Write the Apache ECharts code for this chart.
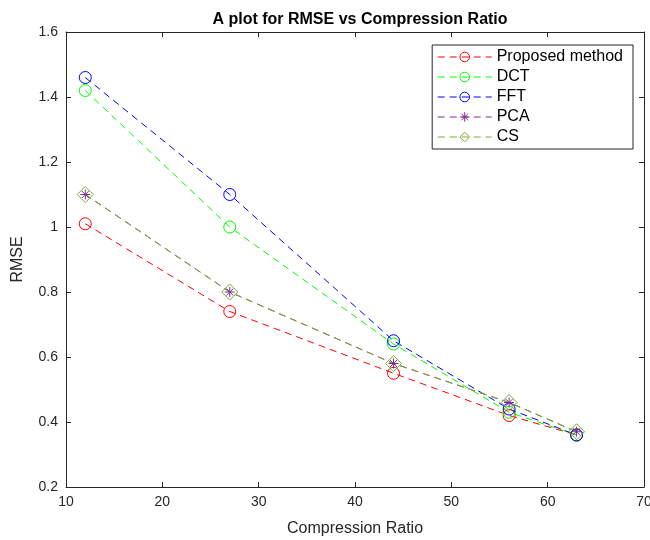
<!DOCTYPE html>
<html>
<head>
<meta charset="utf-8">
<script src="https://cdn.jsdelivr.net/npm/echarts@6/dist/echarts.min.js"></script>
<style>html,body{margin:0;padding:0;background:#fff;}#c{width:650px;height:540px;}</style>
</head>
<body>
<div id="c"></div>
<script>
const ratios = [12, 27, 44, 56, 63];
const proposed = [1.01, 0.74, 0.55, 0.42, 0.36];
const dct = [1.42, 1.00, 0.64, 0.43, 0.36];
const fft = [1.46, 1.10, 0.65, 0.44, 0.36];
const pca = [1.10, 0.80, 0.58, 0.46, 0.37];
const cs = [1.10, 0.80, 0.58, 0.46, 0.37];
const xTicks = [10, 20, 30, 40, 50, 60, 70];
const yTicks = [0.2, 0.4, 0.6, 0.8, 1.0, 1.2, 1.4, 1.6];

const FONT = '"Liberation Sans", Arial, sans-serif';
const starPath = 'path://M10,0L10,20M0,10L20,10M3,3L17,17M3,17L17,3';
const diamondPath = 'path://M10,0L16,10L10,20L4,10Z';

function pairs(ys) { return ratios.map((x, i) => [x, ys[i]]); }
function mk(name, ys, color, symbol, size, fill) {
  return {
    name: name, type: 'line', data: pairs(ys),
    symbol: symbol, symbolSize: size,
    lineStyle: { color: color, width: 1, type: [7, 5] },
    itemStyle: { color: fill, borderColor: color, borderWidth: 1 },
    emphasis: { disabled: true },
    animation: false
  };
}

const chart = echarts.init(document.getElementById('c'));
const axisCommon = {
  axisLine: { show: true, lineStyle: { color: '#262626', width: 1 } },
  axisTick: { show: true, inside: true, length: 5, lineStyle: { color: '#262626' } },
  splitLine: { show: false }
};
chart.setOption({
  backgroundColor: '#fff',
  title: {
    text: 'A plot for RMSE vs Compression Ratio', left: 355, top: 7, textAlign: 'center',
    textStyle: { fontFamily: FONT, fontSize: 16, fontWeight: 'bold', color: '#000' }
  },
  grid: { left: 66, right: 6, top: 32, bottom: 53, outerBoundsMode: 'none', containLabel: false },
  legend: {
    orient: 'vertical', right: 17, top: 45,
    itemWidth: 54, itemHeight: 12, itemGap: 4,
    padding: [4, 10, 4, 5],
    borderColor: '#262626', borderWidth: 1, backgroundColor: '#fff',
    lineStyle: { width: 1, type: [7, 5] },
    itemStyle: { borderWidth: 1 },
    textStyle: { fontFamily: FONT, fontSize: 16, lineHeight: 14, color: '#000' },
    data: ['Proposed method', 'DCT', 'FFT', 'PCA', 'CS']
  },
  xAxis: [Object.assign({
    type: 'value', min: xTicks[0], max: xTicks[xTicks.length - 1], interval: 10,
    name: 'Compression Ratio', nameLocation: 'middle', nameGap: 34,
    nameTextStyle: { fontFamily: FONT, fontSize: 16, color: '#262626' },
    axisLabel: { fontFamily: FONT, fontSize: 14, color: '#262626', margin: 8 }
  }, axisCommon), Object.assign({
    type: 'value', position: 'top', min: 10, max: 70, interval: 10,
    axisLabel: { show: false }
  }, axisCommon)],
  yAxis: [Object.assign({
    type: 'value', min: yTicks[0], max: yTicks[yTicks.length - 1], interval: 0.2,
    name: 'RMSE', nameLocation: 'middle', nameGap: 40,
    nameTextStyle: { fontFamily: FONT, fontSize: 16, color: '#262626' },
    axisLabel: { fontFamily: FONT, fontSize: 14, color: '#262626', margin: 8,
      formatter: v => String(Math.round(v * 10) / 10) }
  }, axisCommon), Object.assign({
    type: 'value', position: 'right', min: 0.2, max: 1.6, interval: 0.2,
    axisLabel: { show: false }
  }, axisCommon)],
  series: [
    mk('Proposed method', proposed, '#ff0000', 'circle', 12, 'transparent'),
    mk('DCT', dct, '#00ff00', 'circle', 12, 'transparent'),
    mk('FFT', fft, '#0000ff', 'circle', 12, 'transparent'),
    mk('PCA', pca, '#7e2f8e', starPath, 10, '#7e2f8e'),
    mk('CS', cs, '#77ac30', diamondPath, 16, 'transparent')
  ]
});
</script>
</body>
</html>
